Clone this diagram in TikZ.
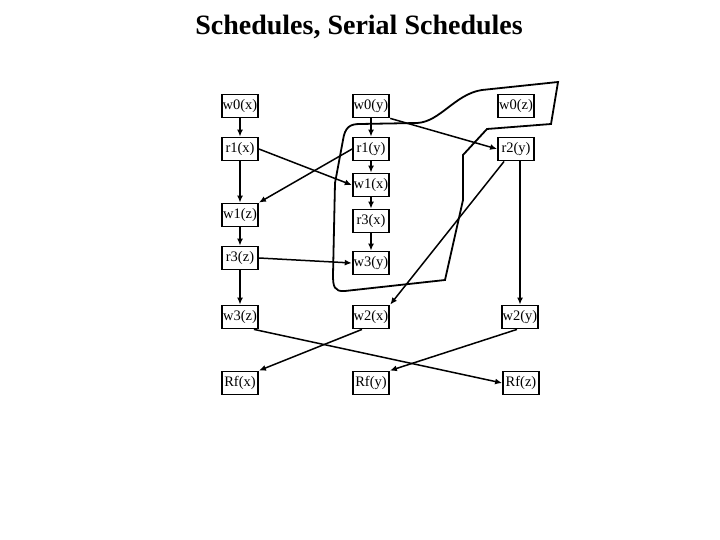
\documentclass[tikz,border=0pt]{standalone}
\usepackage{fontspec}
\setmainfont{Liberation Serif}
\usetikzlibrary{arrows.meta}
\tikzset{
  op/.style={draw,line width=1.8pt,font=\fontsize{14.5}{14.5}\selectfont,inner xsep=1pt,minimum height=23pt,minimum width=36pt},
  dep/.style={line width=1.5pt,-{Latex[length=7pt,width=6pt]}},
  curve/.style={line width=1.8pt}
}
\begin{document}
\begin{tikzpicture}[x=1pt,y=-1pt]
		\useasboundingbox (0,0) rectangle (720,540);

		\node (title) at (359,27) {\fontsize{28}{28}\selectfont\bfseries Schedules, Serial Schedules};

		% column x
		\node[op] (w0x) at (240,106) {w0(x)};
		\node[op] (r1x) at (240,149) {r1(x)};
		\node[op] (w1z) at (240,215) {w1(z)};
		\node[op] (r3z) at (240,258) {r3(z)};
		\node[op] (w3z) at (240,317) {w3(z)};
		\node[op] (rfx) at (240,383) {Rf(x)};

		% column y
		\node[op] (w0y) at (371,106) {w0(y)};
		\node[op] (r1y) at (371,149) {r1(y)};
		\node[op] (w1x) at (371,185) {w1(x)};
		\node[op] (r3x) at (371,221) {r3(x)};
		\node[op] (w3y) at (371,263) {w3(y)};
		\node[op] (w2x) at (371,317) {w2(x)};
		\node[op] (rfy) at (371,383) {Rf(y)};

		% column z
		\node[op] (w0z) at (516,106) {w0(z)};
		\node[op] (r2y) at (516,149) {r2(y)};
		\node[op] (w2y) at (520,317) {w2(y)};
		\node[op] (rfz) at (521,383) {Rf(z)};

		% vertical orders
		\draw[dep] (w0x) -- (r1x);
		\draw[dep] (r1x) -- (w1z);
		\draw[dep] (w1z) -- (r3z);
		\draw[dep] (r3z) -- (w3z);
		\draw[dep] (w0y) -- (r1y);
		\draw[dep] (r1y) -- (w1x);
		\draw[dep] (w1x) -- (r3x);
		\draw[dep] (r3x) -- (w3y);
		\draw[dep] (r2y.south -| w2y) -- (w2y);

		% crossing dependencies
		\draw[dep] (r1x.east) -- (w1x.west);
		\draw[dep] (r1y.west) -- (w1z.north east);
		\draw[dep] (w0y.south east) -- (r2y.west);
		\draw[dep] (r3z.east) -- (w3y.west);
		\draw[dep] ([xshift=7pt]r2y.south west) -- (w2x.north east);
		\draw[dep] ([xshift=-5pt]w3z.south east) -- (rfz.west);
		\draw[dep] ([xshift=-9pt]w2x.south) -- (rfx.north east);
		\draw[dep] ([xshift=-3pt]w2y.south) -- (rfy.north east);

		% freehand outline
		\draw[curve] (463,155) -- (463,200) -- (445,280) -- (345,291)
		  .. controls (334,292) and (333,286) .. (333,275) -- (335,183) -- (343,140)
		  .. controls (345,127) and (350,124) .. (360,124) -- (417,123)
		  .. controls (440,122) and (455,94) .. (482,90) -- (558,82) -- (551,124)
		  -- (487,129) -- cycle;
\end{tikzpicture}
\end{document}
